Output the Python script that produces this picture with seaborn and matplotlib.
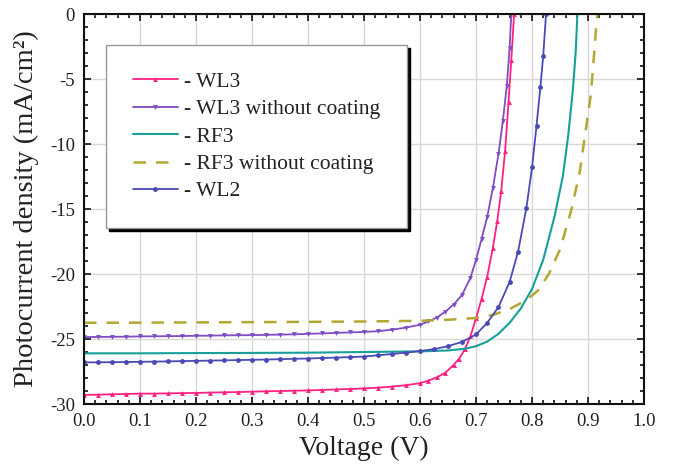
import numpy as np
import pandas as pd
import matplotlib
matplotlib.use('Agg')
import matplotlib.pyplot as plt
from matplotlib.ticker import MultipleLocator
import seaborn as sns

# WL3 (coated)
v_wl3 = [0.000, 0.025, 0.050, 0.075, 0.100, 0.125, 0.150, 0.175, 0.200, 0.225, 0.250, 0.275,
         0.300, 0.325, 0.350, 0.375, 0.400, 0.425, 0.450, 0.475, 0.500, 0.525, 0.550, 0.575,
         0.600, 0.615, 0.630, 0.645, 0.660, 0.670, 0.680, 0.690, 0.700, 0.710, 0.720, 0.730,
         0.738, 0.745, 0.752, 0.758, 0.763, 0.768]
j_wl3 = [-29.30, -29.28, -29.25, -29.23, -29.20, -29.20, -29.18, -29.16, -29.15, -29.12, -29.10, -29.08,
         -29.05, -29.02, -29.00, -28.98, -28.95, -28.92, -28.88, -28.84, -28.80, -28.74, -28.66, -28.55,
         -28.40, -28.20, -27.95, -27.60, -27.00, -26.50, -25.80, -24.80, -23.40, -21.90, -20.20, -18.00,
         -15.90, -13.60, -10.50, -6.80, -3.50, 0.0]

# WL3 without coating
v_wl3_nc = [0.000, 0.025, 0.050, 0.075, 0.100, 0.125, 0.150, 0.175, 0.200, 0.225, 0.250, 0.275,
            0.300, 0.325, 0.350, 0.375, 0.400, 0.425, 0.450, 0.475, 0.500, 0.525, 0.550, 0.575,
            0.600, 0.615, 0.630, 0.645, 0.660, 0.675, 0.690, 0.700, 0.710, 0.720, 0.730, 0.740,
            0.748, 0.755, 0.760, 0.763]
j_wl3_nc = [-24.85, -24.84, -24.83, -24.82, -24.80, -24.79, -24.78, -24.77, -24.75, -24.74, -24.72, -24.71,
            -24.70, -24.68, -24.66, -24.64, -24.60, -24.57, -24.53, -24.49, -24.45, -24.40, -24.28, -24.12,
            -23.90, -23.65, -23.35, -22.90, -22.35, -21.60, -20.30, -18.90, -17.30, -15.60, -13.40, -10.80,
            -8.20, -5.50, -2.60, 0.0]

# RF3
v_rf3 = [0.00, 0.10, 0.20, 0.30, 0.40, 0.50, 0.60, 0.65, 0.68, 0.70, 0.72, 0.74, 0.76, 0.78,
         0.80, 0.82, 0.84, 0.855, 0.865, 0.873, 0.878, 0.881]
j_rf3 = [-26.10, -26.10, -26.08, -26.07, -26.05, -26.00, -25.95, -25.88, -25.75, -25.55, -25.20, -24.60,
         -23.75, -22.65, -21.15, -18.90, -15.60, -12.50, -9.20, -5.80, -2.90, 0.0]

# RF3 without coating
v_rf3_nc = [0.00, 0.10, 0.20, 0.30, 0.40, 0.50, 0.60, 0.65, 0.70, 0.73, 0.76, 0.79, 0.81, 0.83,
            0.85, 0.87, 0.885, 0.896, 0.905, 0.911, 0.915, 0.917]
j_rf3_nc = [-23.75, -23.74, -23.72, -23.70, -23.68, -23.65, -23.60, -23.52, -23.38, -23.15, -22.70, -22.00,
            -21.30, -20.00, -18.10, -15.10, -12.20, -8.90, -6.20, -3.00, -0.70, 0.0]

# WL2
v_wl2 = [0.000, 0.025, 0.050, 0.075, 0.100, 0.125, 0.150, 0.175, 0.200, 0.225, 0.250, 0.275,
         0.300, 0.325, 0.350, 0.375, 0.400, 0.425, 0.450, 0.475, 0.500, 0.525, 0.550, 0.575,
         0.600, 0.625, 0.650, 0.675, 0.700, 0.720, 0.740, 0.760, 0.775, 0.790, 0.800, 0.808,
         0.815, 0.820, 0.825]
j_wl2 = [-26.80, -26.79, -26.78, -26.77, -26.75, -26.74, -26.72, -26.70, -26.68, -26.66, -26.64, -26.62,
         -26.60, -26.58, -26.55, -26.52, -26.50, -26.46, -26.43, -26.39, -26.35, -26.25, -26.15, -26.05,
         -25.92, -25.78, -25.55, -25.22, -24.65, -23.75, -22.55, -20.60, -18.30, -14.90, -11.80, -8.60,
         -5.60, -3.20, 0.0]

labels = ['- WL3', '- WL3 without coating', '- RF3', '- RF3 without coating', '- WL2']
colors = ['#ff2082', '#7e4cc4', '#17a09a', '#b3a832', '#4a4ab6']

sns.set_style('ticks')
plt.rcParams['font.family'] = ['Liberation Serif', 'DejaVu Serif']
plt.rcParams['axes.unicode_minus'] = False
plt.rcParams['xtick.direction'] = 'in'
plt.rcParams['ytick.direction'] = 'in'

fig, ax = plt.subplots(figsize=(6.79, 4.70), dpi=100)
fig.subplots_adjust(left=0.1237, right=0.9485, top=0.970, bottom=0.1404)

sns.lineplot(x=v_wl3, y=j_wl3, ax=ax, color=colors[0], lw=1.3, marker='^', markersize=3.5,
             markeredgewidth=0, label=labels[0], sort=False)
sns.lineplot(x=v_wl3_nc, y=j_wl3_nc, ax=ax, color=colors[1], lw=1.3, marker='v', markersize=3.5,
             markeredgewidth=0, label=labels[1], sort=False)
sns.lineplot(x=v_rf3, y=j_rf3, ax=ax, color=colors[2], lw=1.5, label=labels[2], sort=False)
sns.lineplot(x=v_rf3_nc, y=j_rf3_nc, ax=ax, color=colors[3], lw=1.8, linestyle=(0, (5, 4)),
             label=labels[3], sort=False)
sns.lineplot(x=v_wl2, y=j_wl2, ax=ax, color=colors[4], lw=1.3, marker='o', markersize=3.5,
             markeredgewidth=0, label=labels[4], sort=False)

ax.set_xlim(0, 1.0)
ax.set_ylim(-30, 0)
ax.xaxis.set_major_locator(MultipleLocator(0.1))
ax.xaxis.set_minor_locator(MultipleLocator(0.02))
ax.yaxis.set_major_locator(MultipleLocator(5))
ax.yaxis.set_minor_locator(MultipleLocator(1))
ax.xaxis.set_major_formatter(matplotlib.ticker.FormatStrFormatter('%.1f'))
ax.tick_params(which='both', top=True, right=True, color='#111111', width=1.2)
ax.tick_params(which='major', length=5, labelsize=13.5, labelcolor='#222222', pad=6.5)
ax.tick_params(which='minor', length=3)
ax.grid(True, which='major', color='#d8d8d8', lw=1)
for s in ax.spines.values():
    s.set_color('#111111')
    s.set_linewidth(1.5)

ax.set_xlabel('Voltage (V)', fontsize=20, color='#222222', labelpad=4)
ax.set_ylabel('Photocurrent density (mA/cm²)', fontsize=20.5, color='#222222', labelpad=8)

leg = ax.legend(loc='upper left', bbox_to_anchor=(0.039, 0.921), borderaxespad=0, fontsize=15.5,
                frameon=True, fancybox=False, shadow={'color': 'black', 'alpha': 1},
                edgecolor='#999999', framealpha=1, numpoints=1, handlelength=2.1,
                handletextpad=0.3, borderpad=1.25, labelspacing=0.34)
leg.get_frame().set_linewidth(1.0)
for t in leg.get_texts():
    t.set_color('#222222')

fig.savefig('out.png', dpi=100)
